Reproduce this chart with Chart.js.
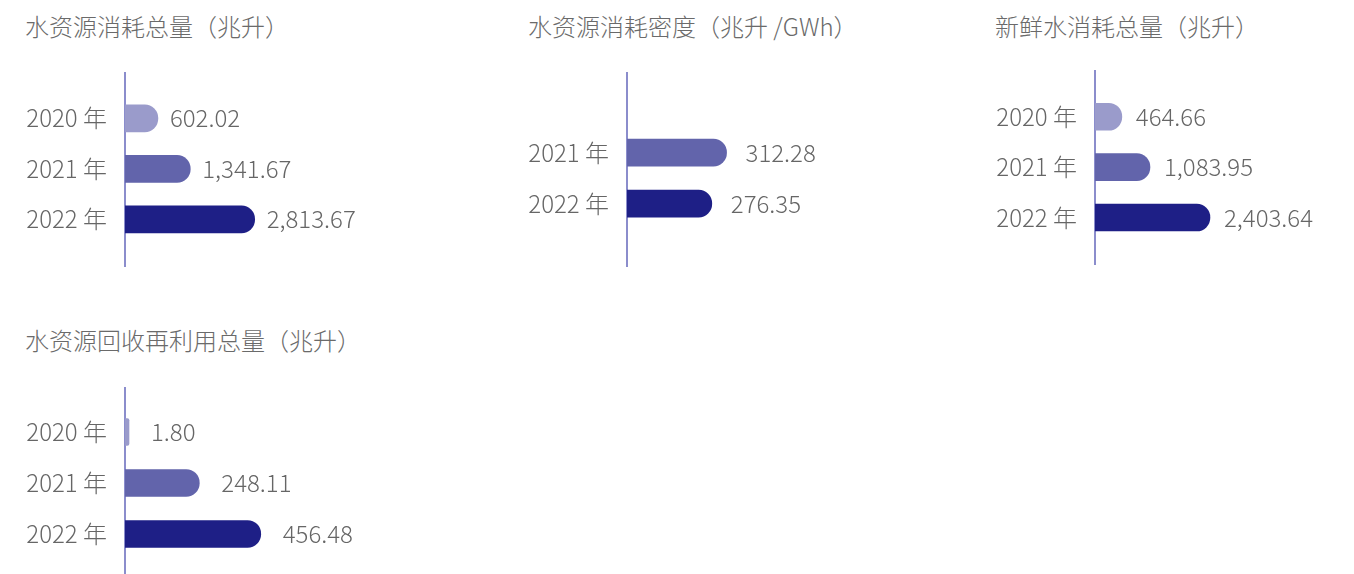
<!DOCTYPE html>
<html>
<head>
<meta charset="utf-8">
<script src="https://cdn.jsdelivr.net/npm/chart.js@4/dist/chart.umd.min.js"></script>
<style>
  body { margin: 0; width: 1354px; height: 574px; background: #fff; position: relative; overflow: hidden; font-family: 'Noto Sans CJK SC', sans-serif; }
  .title { position: absolute; font-size: 24px; line-height: 30px; color: #6a6a6a; font-weight: 300; white-space: nowrap; }
  canvas { position: absolute; }
</style>
</head>
<body>
<div class="title" style="left:25px;top:11px">水资源消耗总量（兆升）</div>
<div class="title" style="left:528px;top:11px">水资源消耗密度（兆升 /GWh）</div>
<div class="title" style="left:995px;top:11px">新鲜水消耗总量（兆升）</div>
<div class="title" style="left:25px;top:325px">水资源回收再利用总量（兆升）</div>

<canvas id="totalChart" width="416" height="195" style="left:0;top:72px"></canvas>
<canvas id="densityChart" width="420" height="195" style="left:507px;top:72px"></canvas>
<canvas id="freshChart" width="353" height="195" style="left:975px;top:70px"></canvas>
<canvas id="recycleChart" width="421" height="187" style="left:0;top:387px"></canvas>

<script>
// Data
const years3 = ['2020 年', '2021 年', '2022 年'];
const years2 = ['2021 年', '2022 年'];
const totalUse = [602.02, 1341.67, 2813.67];
const useDensity = [312.28, 276.35];
const freshUse = [464.66, 1083.95, 2403.64];
const recycled = [1.80, 248.11, 456.48];

const colors3 = ['#9a9bcb', '#6264ab', '#1e1f86'];
const colors2 = ['#6264ab', '#1e1f86'];

const FONT = 'Noto Sans CJK SC';
const TEXT = '#666666';

function fmt(v) {
    return v.toLocaleString('en-US', { minimumFractionDigits: 2, maximumFractionDigits: 2 });
}

// value label to the right of each bar
const valueLabels = {
    id: 'valueLabels',
    afterDatasetsDraw(chart, args, opts) {
        const ctx = chart.ctx;
        const vals = chart.data.datasets[0].data;
        ctx.save();
        ctx.font = '300 24px "' + FONT + '"';
        ctx.fillStyle = TEXT;
        ctx.textAlign = 'left';
        ctx.textBaseline = 'middle';
        chart.getDatasetMeta(0).data.forEach((bar, i) => {
            ctx.fillText(fmt(vals[i].x), bar.x + opts.gap, bar.y);
        });
        ctx.restore();
    }
};

function makeChart(id, labels, values, colors, cfg) {
    return new Chart(document.getElementById(id), {
        type: 'bar',
        data: {
            datasets: [{
                data: values.map((v, i) => ({ x: v, y: i })),
                backgroundColor: colors,
                base: cfg.xMin,
                barThickness: 27,
                borderRadius: 13.5,
                borderSkipped: 'start',
                minBarLength: 4
            }]
        },
        options: {
            indexAxis: 'y',
            responsive: false,
            animation: false,
            devicePixelRatio: 1,
            layout: { padding: 0 },
            scales: {
                x: { type: 'linear', display: false, min: cfg.xMin, max: cfg.xMax },
                y: {
                    type: 'linear',
                    reverse: true,
                    offset: false,
                    bounds: 'data',
                    z: 1,   // axis line sits on top of the bars
                    min: cfg.yMin,
                    max: cfg.yMax,
                    afterFit: (s) => { s.width = cfg.axisW; s.paddingTop = 0; s.paddingBottom = 0; },
                    afterBuildTicks: (s) => { s.ticks = labels.map((_, i) => ({ value: i })); },
                    grid: { display: false, drawTicks: false },
                    border: { display: true, color: '#8b8dcc', width: 2 },
                    ticks: {
                        padding: 18,
                        color: TEXT,
                        font: { family: FONT, size: 24, weight: '300' },
                        callback: (v) => labels[v]
                    }
                }
            },
            plugins: {
                legend: { display: false },
                tooltip: { enabled: false },
                valueLabels: { gap: cfg.gap }
            }
        },
        plugins: [valueLabels]
    });
}

makeChart('totalChart', years3, totalUse, colors3,
    { xMin: -150, xMax: 6500, yMin: -0.917, yMax: 2.944, axisW: 125, gap: 12 });
makeChart('densityChart', years2, useDensity, colors2,
    { xMin: 70, xMax: 800, yMin: -1.582, yMax: 2.242, axisW: 120, gap: 19 });
makeChart('freshChart', years3, freshUse, colors3,
    { xMin: -125, xMax: 5000, yMin: -0.927, yMax: 2.942, axisW: 120, gap: 14 });
makeChart('recycleChart', years3, recycled, colors3,
    { xMin: -4, xMax: 1000, yMin: -0.882, yMax: 2.785, axisW: 125, gap: 22 });
</script>
</body>
</html>
